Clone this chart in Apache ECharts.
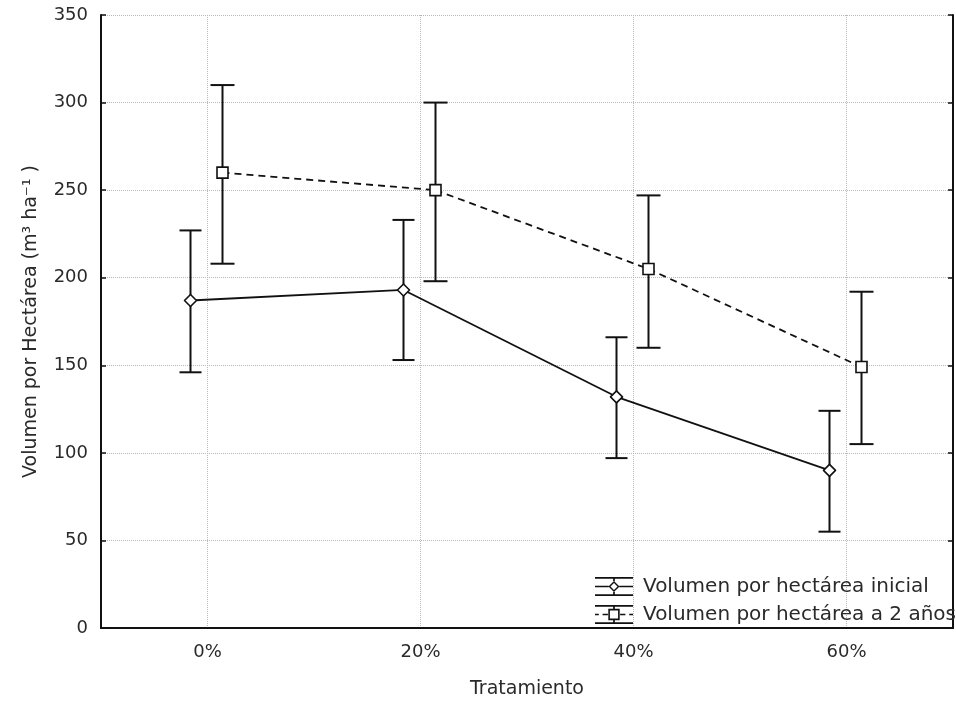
<!DOCTYPE html>
<html>
<head>
<meta charset="utf-8">
<script src="https://cdn.jsdelivr.net/npm/echarts@6/dist/echarts.min.js"></script>
<style>
  html, body { margin: 0; padding: 0; background: #fff; }
  #chart { width: 956px; height: 704px; }
</style>
</head>
<body>
<div id="chart"></div>
<script>
// tratamientos
const categories = ['0%', '20%', '40%', '60%'];

// volumen inicial (media y extremos de la barra de error)
const inicialMean = [187, 193, 132, 90];
const inicialLow = [146, 153, 97, 55];
const inicialHigh = [227, 233, 166, 124];

// volumen a 2 años
const dosAnosMean = [260, 250, 205, 149];
const dosAnosLow = [208, 198, 160, 105];
const dosAnosHigh = [310, 300, 247, 192];

const yMin = 0, yMax = 350, yStep = 50;

const INK = '#111';
const TEXT = '#2a2a2a';
const GRIDLINE = '#b8b8b8';
const FONT = 'DejaVu Sans';

const nameInicial = 'Volumen por hectárea inicial';
const nameDosAnos = 'Volumen por hectárea a 2 años';

// legend icons drawn like the error bar symbol of the original
const iconInicial = 'path://M0,0H40V1.8H0Z M0,18.2H40V20H0Z M0,9.1H14.4V10.9H0Z M25.6,9.1H40V10.9H25.6Z ' +
  'M19.1,1.8H20.9V4.2H19.1Z M19.1,15.8H20.9V18.2H19.1Z ' +
  'M20,4.2L25.8,10L20,15.8L14.2,10Z M20,6.3L16.3,10L20,13.7L23.7,10Z';
const iconDosAnos = 'path://M0,0H40V1.8H0Z M0,18.2H40V20H0Z M0,9.1H4V10.9H0Z M8,9.1H13.6V10.9H8Z ' +
  'M26.4,9.1H32V10.9H26.4Z M36,9.1H40V10.9H36Z M19.1,1.8H20.9V4H19.1Z M19.1,16H20.9V18.2H19.1Z ' +
  'M14,4H26V16H14Z M15.7,5.7V14.3H24.3V5.7Z';

function toData(mean, low, high) {
  return mean.map((m, i) => [i, m, low[i], high[i]]);
}

// draws line to next point, error bar and marker, shifted sideways by opts.offset px
function errorBarRenderer(means, opts) {
  return function (params, api) {
    const i = params.dataIndex;
    const p = api.coord([i, api.value(1)]);
    const lo = api.coord([i, api.value(2)]);
    const hi = api.coord([i, api.value(3)]);
    const cx = p[0] + opts.offset;
    const cy = p[1];
    const children = [];
    if (i < means.length - 1) {
      const q = api.coord([i + 1, means[i + 1]]);
      children.push({
        type: 'line',
        shape: { x1: cx, y1: cy, x2: q[0] + opts.offset, y2: q[1] },
        style: { stroke: INK, lineWidth: 1.8, lineDash: opts.dash }
      });
    }
    const hw = opts.cap / 2;
    children.push(
      { type: 'line', shape: { x1: cx, y1: hi[1], x2: cx, y2: lo[1] }, style: { stroke: INK, lineWidth: 2 } },
      { type: 'line', shape: { x1: cx - hw, y1: hi[1], x2: cx + hw, y2: hi[1] }, style: { stroke: INK, lineWidth: 2 } },
      { type: 'line', shape: { x1: cx - hw, y1: lo[1], x2: cx + hw, y2: lo[1] }, style: { stroke: INK, lineWidth: 2 } }
    );
    const r = opts.size / 2;
    if (opts.marker === 'diamond') {
      children.push({
        type: 'polygon',
        shape: { points: [[cx, cy - r], [cx + r, cy], [cx, cy + r], [cx - r, cy]] },
        style: { fill: '#fff', stroke: INK, lineWidth: 1.6, lineJoin: 'round' }
      });
    } else {
      children.push({
        type: 'rect',
        shape: { x: cx - r, y: cy - r, width: opts.size, height: opts.size },
        style: { fill: '#fff', stroke: INK, lineWidth: 1.6 }
      });
    }
    return { type: 'group', children: children };
  };
}

const chart = echarts.init(document.getElementById('chart'));

const catAxisBase = {
  type: 'category',
  data: categories,
  boundaryGap: true,
  axisLine: { lineStyle: { color: INK, width: 2 } },
  axisTick: { inside: true, alignWithLabel: true, length: 5, lineStyle: { color: INK, width: 1.5 } }
};

const valAxisBase = {
  type: 'value',
  min: yMin,
  max: yMax,
  interval: yStep,
  axisLine: { show: true, lineStyle: { color: INK, width: 2 } },
  axisTick: { show: true, inside: true, length: 5, lineStyle: { color: INK, width: 1.5 } }
};

const option = {
  animation: false,
  backgroundColor: '#fff',
  grid: { left: 101, right: 3, top: 15, bottom: 75, containLabel: false },
  legend: {
    orient: 'vertical',
    left: 595,
    top: 576,
    padding: 0,
    itemWidth: 38,
    itemHeight: 21,
    itemGap: 7,
    selectedMode: false,
    itemStyle: { color: INK, borderWidth: 0 },
    textStyle: { fontFamily: FONT, fontSize: 20, lineHeight: 21, color: TEXT, padding: [0, 0, 0, 5] },
    data: [
      { name: nameInicial, icon: iconInicial },
      { name: nameDosAnos, icon: iconDosAnos }
    ]
  },
  xAxis: [
    Object.assign({}, catAxisBase, {
      position: 'bottom',
      axisLabel: { margin: 15, color: TEXT, fontFamily: FONT, fontSize: 18 },
      splitLine: { show: true, alignWithLabel: true, lineStyle: { type: 'dotted', color: GRIDLINE, width: 1 } },
      name: 'Tratamiento',
      nameLocation: 'middle',
      nameGap: 52,
      nameTextStyle: { color: TEXT, fontFamily: FONT, fontSize: 19 }
    }),
    Object.assign({}, catAxisBase, {
      position: 'top',
      axisLabel: { show: false },
      splitLine: { show: false }
    })
  ],
  yAxis: [
    Object.assign({}, valAxisBase, {
      position: 'left',
      axisLabel: { margin: 13, color: TEXT, fontFamily: FONT, fontSize: 18 },
      splitLine: { show: true, lineStyle: { type: 'dotted', color: GRIDLINE, width: 1 } },
      name: 'Volumen por Hectárea (m³ ha⁻¹ )',
      nameLocation: 'middle',
      nameGap: 60,
      nameTextStyle: { color: TEXT, fontFamily: FONT, fontSize: 19 }
    }),
    Object.assign({}, valAxisBase, {
      position: 'right',
      axisLabel: { show: false },
      splitLine: { show: false }
    })
  ],
  series: [
    {
      name: nameInicial,
      type: 'custom',
      xAxisIndex: 0,
      yAxisIndex: 0,
      itemStyle: { color: INK },
      encode: { x: 0, y: [1, 2, 3] },
      data: toData(inicialMean, inicialLow, inicialHigh),
      renderItem: errorBarRenderer(inicialMean, { offset: -17, cap: 22, size: 12, marker: 'diamond', dash: null })
    },
    {
      name: nameDosAnos,
      type: 'custom',
      xAxisIndex: 0,
      yAxisIndex: 0,
      itemStyle: { color: INK },
      encode: { x: 0, y: [1, 2, 3] },
      data: toData(dosAnosMean, dosAnosLow, dosAnosHigh),
      renderItem: errorBarRenderer(dosAnosMean, { offset: 15, cap: 24, size: 11, marker: 'square', dash: [7, 5] })
    }
  ]
};

chart.setOption(option);
</script>
</body>
</html>
